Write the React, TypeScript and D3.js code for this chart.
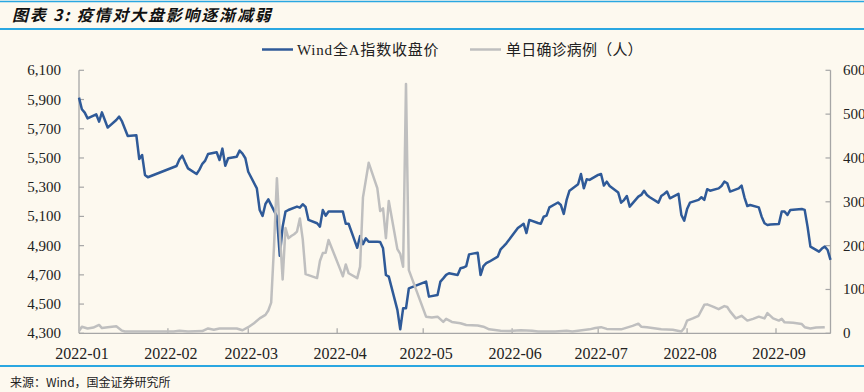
import React, { useEffect } from "react";
import * as d3 from "d3";

// Wind全A指数收盘价 (trading days)
const indexDates = [
  "2022-01-04","2022-01-05","2022-01-06","2022-01-07","2022-01-10","2022-01-11","2022-01-12","2022-01-13","2022-01-14",
  "2022-01-17","2022-01-18","2022-01-19","2022-01-20","2022-01-21","2022-01-24","2022-01-25","2022-01-26","2022-01-27","2022-01-28",
  "2022-02-07","2022-02-08","2022-02-09","2022-02-10","2022-02-11","2022-02-14","2022-02-15","2022-02-16","2022-02-17","2022-02-18",
  "2022-02-21","2022-02-22","2022-02-23","2022-02-24","2022-02-25","2022-02-28",
  "2022-03-01","2022-03-02","2022-03-03","2022-03-04","2022-03-07","2022-03-08","2022-03-09","2022-03-10","2022-03-11",
  "2022-03-14","2022-03-15","2022-03-16","2022-03-17","2022-03-18","2022-03-21","2022-03-22","2022-03-23","2022-03-24","2022-03-25",
  "2022-03-28","2022-03-29","2022-03-30","2022-03-31","2022-04-01",
  "2022-04-06","2022-04-07","2022-04-08","2022-04-11","2022-04-12","2022-04-13","2022-04-14","2022-04-15",
  "2022-04-18","2022-04-19","2022-04-20","2022-04-21","2022-04-22","2022-04-25","2022-04-26","2022-04-27","2022-04-28","2022-04-29",
  "2022-05-05","2022-05-06","2022-05-09","2022-05-10","2022-05-11","2022-05-12","2022-05-13",
  "2022-05-16","2022-05-17","2022-05-18","2022-05-19","2022-05-20","2022-05-23","2022-05-24","2022-05-25","2022-05-26","2022-05-27",
  "2022-05-30","2022-05-31","2022-06-01","2022-06-02",
  "2022-06-06","2022-06-07","2022-06-08","2022-06-09","2022-06-10","2022-06-13","2022-06-14","2022-06-15","2022-06-16","2022-06-17",
  "2022-06-20","2022-06-21","2022-06-22","2022-06-23","2022-06-24","2022-06-27","2022-06-28","2022-06-29","2022-06-30","2022-07-01",
  "2022-07-04","2022-07-05","2022-07-06","2022-07-07","2022-07-08","2022-07-11","2022-07-12","2022-07-13","2022-07-14","2022-07-15",
  "2022-07-18","2022-07-19","2022-07-20","2022-07-21","2022-07-22","2022-07-25","2022-07-26","2022-07-27","2022-07-28","2022-07-29",
  "2022-08-01","2022-08-02","2022-08-03","2022-08-04","2022-08-05","2022-08-08","2022-08-09","2022-08-10","2022-08-11","2022-08-12",
  "2022-08-15","2022-08-16","2022-08-17","2022-08-18","2022-08-19","2022-08-22","2022-08-23","2022-08-24","2022-08-25","2022-08-26",
  "2022-08-29","2022-08-30","2022-08-31","2022-09-01","2022-09-02","2022-09-05","2022-09-06","2022-09-07","2022-09-08","2022-09-09",
  "2022-09-13","2022-09-14","2022-09-15","2022-09-16","2022-09-19","2022-09-20","2022-09-21","2022-09-22","2022-09-23",
];
const indexValues = [
  5913,5833,5810,5771,5799,5749,5812,5760,5708,
  5760,5783,5750,5700,5650,5655,5493,5520,5384,5368,
  5445,5490,5516,5470,5429,5390,5420,5460,5482,5527,
  5539,5486,5564,5447,5498,5509,
  5550,5530,5498,5406,5292,5144,5103,5185,5217,
  5100,4830,5030,5133,5144,5167,5160,5183,5165,5076,
  5053,5030,5144,5105,5133,
  5133,5050,5050,4885,4965,4910,4950,4927,
  4927,4925,4882,4699,4688,4460,4327,4471,4471,4608,
  4654,4551,4562,4654,4676,4700,4711,
  4699,4745,4750,4760,4840,4852,4699,4760,4780,4790,
  4825,4875,4895,4916,
  5020,5035,5050,4986,5076,5055,5050,5098,5105,5162,
  5195,5178,5117,5213,5276,5320,5390,5292,5354,5350,
  5384,5390,5311,5338,5308,5263,5194,5212,5240,5167,
  5235,5247,5276,5247,5231,5194,5240,5254,5270,5224,
  5254,5110,5071,5150,5194,5213,5231,5213,5286,5276,
  5292,5308,5338,5327,5270,5292,5311,5231,5171,5178,
  5162,5098,5053,5041,5045,5048,5133,5133,5110,5144,
  5151,5145,5030,4893,4859,4880,4893,4870,4802,
];

// 单日确诊病例（人）(calendar days)
const caseDates = [
  "2022-01-04","2022-01-05","2022-01-07","2022-01-09","2022-01-11","2022-01-12","2022-01-14","2022-01-17","2022-01-19","2022-01-20",
  "2022-02-06","2022-02-08","2022-02-11","2022-02-16","2022-02-18","2022-02-20","2022-02-22","2022-02-28",
  "2022-03-02","2022-03-04","2022-03-06","2022-03-08","2022-03-10","2022-03-11","2022-03-12","2022-03-13","2022-03-14","2022-03-15",
  "2022-03-16","2022-03-17","2022-03-18","2022-03-19","2022-03-20","2022-03-21","2022-03-22","2022-03-23","2022-03-24","2022-03-28",
  "2022-03-29","2022-03-30","2022-03-31","2022-04-01","2022-04-05","2022-04-06","2022-04-07","2022-04-08","2022-04-11","2022-04-12",
  "2022-04-13","2022-04-15","2022-04-18","2022-04-19","2022-04-20","2022-04-21","2022-04-22","2022-04-25","2022-04-26","2022-04-27",
  "2022-04-28","2022-04-29","2022-05-05","2022-05-07","2022-05-09","2022-05-11","2022-05-12","2022-05-14","2022-05-17","2022-05-19",
  "2022-05-23","2022-05-25","2022-05-27","2022-05-31","2022-06-03","2022-06-07","2022-06-11","2022-06-13","2022-06-19","2022-06-23",
  "2022-06-25","2022-07-01","2022-07-03","2022-07-05","2022-07-07","2022-07-12","2022-07-16","2022-07-18","2022-07-19","2022-07-21",
  "2022-07-26","2022-07-30","2022-08-02","2022-08-03","2022-08-04","2022-08-06","2022-08-08","2022-08-10","2022-08-11","2022-08-13",
  "2022-08-15","2022-08-17","2022-08-18","2022-08-19","2022-08-21","2022-08-23","2022-08-25","2022-08-27","2022-08-29","2022-08-31",
  "2022-09-01","2022-09-03","2022-09-05","2022-09-06","2022-09-07","2022-09-10","2022-09-13","2022-09-14","2022-09-16","2022-09-18",
  "2022-09-21",
];
const caseValues = [
  5,15,11,13,19,12,14,16,6,4,
  4,6,4,5,11,8,11,11,
  7,14,23,34,42,52,70,200,354,230,
  123,240,217,222,226,232,262,215,135,126,
  165,183,184,213,147,130,157,137,126,152,
  310,389,331,279,285,217,302,192,181,152,
  569,144,38,36,38,26,33,26,23,19,
  18,15,9,6,5,7,6,4,4,6,
  4,9,12,14,10,9,17,22,15,14,
  9,8,4,12,29,34,40,65,66,61,
  55,62,60,50,34,40,29,33,38,34,
  46,34,29,33,25,24,21,14,11,13,
  14,
];

const leftTicks = [4300, 4500, 4700, 4900, 5100, 5300, 5500, 5700, 5900, 6100];
const rightTicks = [0, 100, 200, 300, 400, 500, 600];
const xTickLabels = ["2022-01", "2022-02", "2022-03", "2022-04", "2022-05", "2022-06", "2022-07", "2022-08", "2022-09"];
const seriesNames = ["Wind全A指数收盘价", "单日确诊病例（人）"];
const titleText = "图表 3:  疫情对大盘影响逐渐减弱";
const sourceText = "来源：Wind，国金证券研究所";

const BLUE = "#2F5A98";
const GRAY = "#BFBFBF";
const AXIS = "#A6A6A6";
const BG = "#FDF9EF";
const RULE = "#2AA7E1";
const SERIF = "'Liberation Serif','Times New Roman','Noto Sans CJK SC',serif";
const CJK = "'Noto Sans CJK SC','Liberation Serif',sans-serif";

export default function App() {
  useEffect(() => {
    document.body.style.margin = "0";
    document.body.style.background = BG;
  }, []);

  const W = 864, H = 392;
  const L = 79, R = 830.5, T = 70.3, B = 333.3;
  const parse = d3.utcParse("%Y-%m-%d");
  const start = parse("2022-01-04") as Date;
  const end = parse("2022-09-23") as Date;
  const x = d3.scaleUtc().domain([start, end]).range([L, R]);
  const yL = d3.scaleLinear().domain([4300, 6100]).range([B, T]);
  const yR = d3.scaleLinear().domain([0, 600]).range([B, T]);

  const idx = indexDates.map((d, i) => ({ date: parse(d) as Date, v: indexValues[i] }));
  const cases = caseDates.map((d, i) => ({ date: parse(d) as Date, v: caseValues[i] }));

  const lineL = d3.line<{ date: Date; v: number }>().x(d => x(d.date)).y(d => yL(d.v));
  const lineR = d3.line<{ date: Date; v: number }>().x(d => x(d.date)).y(d => yR(d.v));

  const monthTicks = xTickLabels.map((_, i) => d3.utcMonth.offset(start, i));
  const fmt = d3.format(",");

  return (
    <svg width={W} height={H} style={{ display: "block", background: BG }}>
      <rect x={0} y={0} width={W} height={H} fill={BG} />
      {/* header */}
      <line x1={0} x2={W} y1={1.5} y2={1.5} stroke={RULE} strokeWidth={1.5} />
      <text x={12} y={21} fontFamily={CJK} fontSize={16} fontWeight="bold" fontStyle="italic" fill="#111" letterSpacing={1.8}>
        {titleText}
      </text>
      <line x1={0} x2={W} y1={29} y2={29} stroke={RULE} strokeWidth={2} />

      {/* legend */}
      <line x1={262} x2={293} y1={49.5} y2={49.5} stroke={BLUE} strokeWidth={2.5} />
      <text x={297} y={55} fontFamily={SERIF} fontSize={15} fill="#222" letterSpacing={0.8}>{seriesNames[0]}</text>
      <line x1={470} x2={501} y1={49.5} y2={49.5} stroke={GRAY} strokeWidth={2.5} />
      <text x={506} y={55} fontFamily={SERIF} fontSize={15} fill="#222" letterSpacing={0.2}>{seriesNames[1]}</text>

      {/* axes */}
      <line x1={L} x2={L} y1={T} y2={B} stroke={AXIS} strokeWidth={1.3} />
      <line x1={R} x2={R} y1={T} y2={B} stroke={AXIS} strokeWidth={1.3} />
      <line x1={L} x2={R} y1={B} y2={B} stroke={AXIS} strokeWidth={1.3} />
      {leftTicks.map(t => (
        <g key={"l" + t}>
          <line x1={L} x2={L + 5} y1={yL(t)} y2={yL(t)} stroke={AXIS} strokeWidth={1.2} />
          <text x={61} y={yL(t) + 5} textAnchor="end" fontFamily={SERIF} fontSize={15} fill="#222">{fmt(t)}</text>
        </g>
      ))}
      {rightTicks.map(t => (
        <g key={"r" + t}>
          <line x1={R - 5} x2={R} y1={yR(t)} y2={yR(t)} stroke={AXIS} strokeWidth={1.2} />
          <text x={843} y={yR(t) + 5} textAnchor="start" fontFamily={SERIF} fontSize={15} fill="#222">{t}</text>
        </g>
      ))}
      {monthTicks.map((d, i) => (
        <g key={"x" + i}>
          {i > 0 && <line x1={x(d)} x2={x(d)} y1={B - 5} y2={B} stroke={AXIS} strokeWidth={1.2} />}
          <text x={x(d) + 3} y={359} textAnchor="middle" fontFamily={SERIF} fontSize={16} fill="#222">{xTickLabels[i]}</text>
        </g>
      ))}

      {/* series */}
      <path d={lineL(idx) || ""} fill="none" stroke={BLUE} strokeWidth={2.5} strokeLinejoin="round" />
      <path d={lineR(cases) || ""} fill="none" stroke={GRAY} strokeWidth={2.5} strokeLinejoin="round" />

      {/* footer */}
      <line x1={0} x2={W} y1={366} y2={366} stroke={RULE} strokeWidth={2} />
      <text x={10} y={387} fontFamily={CJK} fontSize={12} fill="#222">{sourceText}</text>
    </svg>
  );
}
